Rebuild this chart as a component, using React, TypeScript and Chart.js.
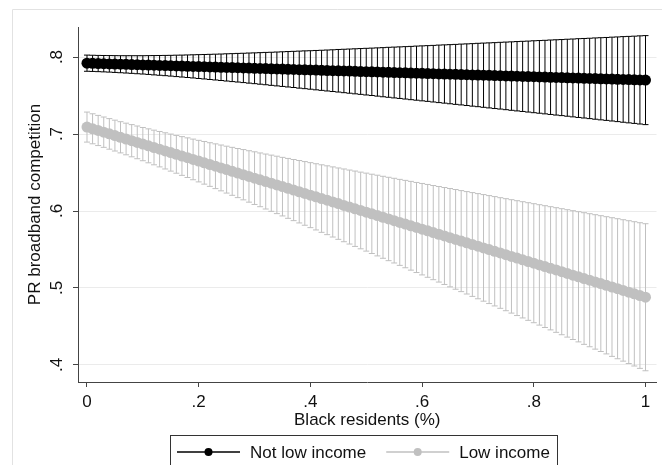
import React, { useEffect, useRef } from "react";
import { Chart, registerables } from "chart.js";

Chart.register(...registerables);

const FONT = "'Liberation Sans', Arial, Helvetica, sans-serif";
const TEXT = "#111111";
const AXIS = "#444444";
const BLACK = "#000000";
const GRAY = "#c0c0c0";

const X_TITLE = "Black residents (%)";
const Y_TITLE = "PR broadband competition";
const SERIES_LABELS = ["Not low income", "Low income"];

const X_TICKS = [0, 0.2, 0.4, 0.6, 0.8, 1];
const X_TICK_LABELS = ["0", ".2", ".4", ".6", ".8", "1"];
const Y_TICKS = [0.4, 0.5, 0.6, 0.7, 0.8];
const Y_TICK_LABELS = [".4", ".5", ".6", ".7", ".8"];

const X_VALUES = [
  0, 0.01, 0.02, 0.03, 0.04, 0.05, 0.06, 0.07, 0.08, 0.09,
  0.1, 0.11, 0.12, 0.13, 0.14, 0.15, 0.16, 0.17, 0.18, 0.19,
  0.2, 0.21, 0.22, 0.23, 0.24, 0.25, 0.26, 0.27, 0.28, 0.29,
  0.3, 0.31, 0.32, 0.33, 0.34, 0.35, 0.36, 0.37, 0.38, 0.39,
  0.4, 0.41, 0.42, 0.43, 0.44, 0.45, 0.46, 0.47, 0.48, 0.49,
  0.5, 0.51, 0.52, 0.53, 0.54, 0.55, 0.56, 0.57, 0.58, 0.59,
  0.6, 0.61, 0.62, 0.63, 0.64, 0.65, 0.66, 0.67, 0.68, 0.69,
  0.7, 0.71, 0.72, 0.73, 0.74, 0.75, 0.76, 0.77, 0.78, 0.79,
  0.8, 0.81, 0.82, 0.83, 0.84, 0.85, 0.86, 0.87, 0.88, 0.89,
  0.9, 0.91, 0.92, 0.93, 0.94, 0.95, 0.96, 0.97, 0.98, 0.99, 1,
];

const NOT_LOW_MEAN = [
  0.7920, 0.7918, 0.7916, 0.7913, 0.7911, 0.7909, 0.7907, 0.7905, 0.7902, 0.7900,
  0.7898, 0.7896, 0.7894, 0.7891, 0.7889, 0.7887, 0.7885, 0.7883, 0.7880, 0.7878,
  0.7876, 0.7874, 0.7872, 0.7869, 0.7867, 0.7865, 0.7863, 0.7861, 0.7858, 0.7856,
  0.7854, 0.7852, 0.7850, 0.7847, 0.7845, 0.7843, 0.7841, 0.7839, 0.7836, 0.7834,
  0.7832, 0.7830, 0.7828, 0.7825, 0.7823, 0.7821, 0.7819, 0.7817, 0.7814, 0.7812,
  0.7810, 0.7808, 0.7806, 0.7803, 0.7801, 0.7799, 0.7797, 0.7795, 0.7792, 0.7790,
  0.7788, 0.7786, 0.7784, 0.7781, 0.7779, 0.7777, 0.7775, 0.7773, 0.7770, 0.7768,
  0.7766, 0.7764, 0.7762, 0.7759, 0.7757, 0.7755, 0.7753, 0.7751, 0.7748, 0.7746,
  0.7744, 0.7742, 0.7740, 0.7737, 0.7735, 0.7733, 0.7731, 0.7729, 0.7726, 0.7724,
  0.7722, 0.7720, 0.7718, 0.7715, 0.7713, 0.7711, 0.7709, 0.7707, 0.7704, 0.7702, 0.7700,
];

const NOT_LOW_LOWER = [
  0.7815, 0.7813, 0.7810, 0.7807, 0.7804, 0.7800, 0.7796, 0.7792, 0.7788, 0.7783,
  0.7779, 0.7774, 0.7768, 0.7763, 0.7758, 0.7752, 0.7746, 0.7740, 0.7734, 0.7728,
  0.7721, 0.7715, 0.7708, 0.7702, 0.7695, 0.7688, 0.7681, 0.7675, 0.7668, 0.7661,
  0.7654, 0.7647, 0.7640, 0.7632, 0.7625, 0.7618, 0.7611, 0.7604, 0.7596, 0.7589,
  0.7582, 0.7574, 0.7567, 0.7559, 0.7552, 0.7545, 0.7537, 0.7530, 0.7522, 0.7515,
  0.7507, 0.7500, 0.7492, 0.7484, 0.7477, 0.7469, 0.7462, 0.7454, 0.7446, 0.7439,
  0.7431, 0.7424, 0.7416, 0.7408, 0.7401, 0.7393, 0.7385, 0.7378, 0.7370, 0.7362,
  0.7355, 0.7347, 0.7339, 0.7331, 0.7324, 0.7316, 0.7308, 0.7300, 0.7293, 0.7285,
  0.7277, 0.7270, 0.7262, 0.7254, 0.7246, 0.7239, 0.7231, 0.7223, 0.7215, 0.7208,
  0.7200, 0.7192, 0.7184, 0.7177, 0.7169, 0.7161, 0.7153, 0.7145, 0.7138, 0.7130, 0.7122,
];

const NOT_LOW_UPPER = [
  0.8025, 0.8023, 0.8021, 0.8020, 0.8019, 0.8018, 0.8017, 0.8017, 0.8017, 0.8017,
  0.8017, 0.8018, 0.8019, 0.8020, 0.8021, 0.8022, 0.8024, 0.8025, 0.8027, 0.8029,
  0.8031, 0.8033, 0.8035, 0.8037, 0.8039, 0.8042, 0.8044, 0.8047, 0.8049, 0.8052,
  0.8054, 0.8057, 0.8060, 0.8062, 0.8065, 0.8068, 0.8071, 0.8074, 0.8077, 0.8080,
  0.8082, 0.8085, 0.8088, 0.8091, 0.8094, 0.8098, 0.8101, 0.8104, 0.8107, 0.8110,
  0.8113, 0.8116, 0.8119, 0.8122, 0.8126, 0.8129, 0.8132, 0.8135, 0.8138, 0.8142,
  0.8145, 0.8148, 0.8151, 0.8155, 0.8158, 0.8161, 0.8164, 0.8168, 0.8171, 0.8174,
  0.8178, 0.8181, 0.8184, 0.8187, 0.8191, 0.8194, 0.8197, 0.8201, 0.8204, 0.8207,
  0.8211, 0.8214, 0.8217, 0.8221, 0.8224, 0.8227, 0.8231, 0.8234, 0.8238, 0.8241,
  0.8244, 0.8248, 0.8251, 0.8254, 0.8258, 0.8261, 0.8265, 0.8268, 0.8271, 0.8275, 0.8278,
];

const LOW_MEAN = [
  0.7090, 0.7068, 0.7046, 0.7024, 0.7002, 0.6980, 0.6957, 0.6935, 0.6913, 0.6891,
  0.6869, 0.6847, 0.6825, 0.6803, 0.6781, 0.6759, 0.6736, 0.6714, 0.6692, 0.6670,
  0.6648, 0.6626, 0.6604, 0.6582, 0.6560, 0.6538, 0.6515, 0.6493, 0.6471, 0.6449,
  0.6427, 0.6405, 0.6383, 0.6361, 0.6339, 0.6317, 0.6294, 0.6272, 0.6250, 0.6228,
  0.6206, 0.6184, 0.6162, 0.6140, 0.6118, 0.6096, 0.6073, 0.6051, 0.6029, 0.6007,
  0.5985, 0.5963, 0.5941, 0.5919, 0.5897, 0.5875, 0.5852, 0.5830, 0.5808, 0.5786,
  0.5764, 0.5742, 0.5720, 0.5698, 0.5676, 0.5654, 0.5631, 0.5609, 0.5587, 0.5565,
  0.5543, 0.5521, 0.5499, 0.5477, 0.5455, 0.5433, 0.5410, 0.5388, 0.5366, 0.5344,
  0.5322, 0.5300, 0.5278, 0.5256, 0.5234, 0.5212, 0.5189, 0.5167, 0.5145, 0.5123,
  0.5101, 0.5079, 0.5057, 0.5035, 0.5013, 0.4991, 0.4968, 0.4946, 0.4924, 0.4902, 0.4880,
];

const LOW_LOWER = [
  0.6895, 0.6873, 0.6850, 0.6827, 0.6803, 0.6779, 0.6755, 0.6730, 0.6704, 0.6679,
  0.6653, 0.6626, 0.6600, 0.6573, 0.6546, 0.6518, 0.6491, 0.6463, 0.6435, 0.6406,
  0.6378, 0.6349, 0.6320, 0.6291, 0.6262, 0.6233, 0.6204, 0.6174, 0.6145, 0.6115,
  0.6085, 0.6056, 0.6026, 0.5996, 0.5966, 0.5936, 0.5905, 0.5875, 0.5845, 0.5815,
  0.5784, 0.5754, 0.5723, 0.5693, 0.5662, 0.5632, 0.5601, 0.5571, 0.5540, 0.5509,
  0.5479, 0.5448, 0.5417, 0.5386, 0.5355, 0.5325, 0.5294, 0.5263, 0.5232, 0.5201,
  0.5170, 0.5139, 0.5108, 0.5077, 0.5046, 0.5015, 0.4984, 0.4953, 0.4922, 0.4891,
  0.4860, 0.4829, 0.4798, 0.4767, 0.4736, 0.4705, 0.4674, 0.4642, 0.4611, 0.4580,
  0.4549, 0.4518, 0.4487, 0.4456, 0.4424, 0.4393, 0.4362, 0.4331, 0.4300, 0.4268,
  0.4237, 0.4206, 0.4175, 0.4144, 0.4112, 0.4081, 0.4050, 0.4019, 0.3987, 0.3956, 0.3925,
];

const LOW_UPPER = [
  0.7285, 0.7263, 0.7242, 0.7221, 0.7200, 0.7180, 0.7160, 0.7141, 0.7122, 0.7104,
  0.7085, 0.7067, 0.7050, 0.7033, 0.7016, 0.6999, 0.6982, 0.6966, 0.6950, 0.6934,
  0.6918, 0.6903, 0.6887, 0.6872, 0.6857, 0.6842, 0.6827, 0.6812, 0.6798, 0.6783,
  0.6769, 0.6754, 0.6740, 0.6726, 0.6712, 0.6697, 0.6683, 0.6669, 0.6656, 0.6642,
  0.6628, 0.6614, 0.6600, 0.6587, 0.6573, 0.6559, 0.6546, 0.6532, 0.6519, 0.6505,
  0.6492, 0.6478, 0.6465, 0.6451, 0.6438, 0.6425, 0.6411, 0.6398, 0.6385, 0.6371,
  0.6358, 0.6345, 0.6331, 0.6318, 0.6305, 0.6292, 0.6279, 0.6265, 0.6252, 0.6239,
  0.6226, 0.6213, 0.6200, 0.6187, 0.6173, 0.6160, 0.6147, 0.6134, 0.6121, 0.6108,
  0.6095, 0.6082, 0.6069, 0.6056, 0.6043, 0.6030, 0.6017, 0.6004, 0.5991, 0.5978,
  0.5965, 0.5952, 0.5939, 0.5926, 0.5913, 0.5900, 0.5887, 0.5874, 0.5861, 0.5848, 0.5835,
];

const X_MIN = -0.0161;
const X_MAX = 1.0197;
const Y_MIN = 0.3779;
const Y_MAX = 0.839;

function pts(ys: number[]) {
  return X_VALUES.map((x, i) => ({ x, y: ys[i] }));
}
function ranges(lo: number[], hi: number[]) {
  return X_VALUES.map((x, i) => ({ x, y: [lo[i], hi[i]] }));
}

function meanDataset(label: string, ys: number[], color: string) {
  return {
    type: "line" as const,
    label,
    data: pts(ys),
    showLine: true,
    borderColor: color,
    borderWidth: 2,
    backgroundColor: color,
    pointRadius: 5.5,
    pointBorderWidth: 0,
    pointBackgroundColor: color,
    pointBorderColor: color,
    pointHoverRadius: 5.5,
  };
}
function capDataset(label: string, ys: number[], color: string) {
  return {
    type: "scatter" as const,
    label,
    data: pts(ys),
    showLine: false,
    pointStyle: "line",
    pointRadius: 3,
    pointHoverRadius: 3,
    pointBorderWidth: 1,
    pointBorderColor: color,
    borderColor: color,
    backgroundColor: color,
  };
}
function barDataset(label: string, lo: number[], hi: number[], color: string) {
  return {
    type: "bar" as const,
    label,
    data: ranges(lo, hi),
    backgroundColor: color,
    borderWidth: 0,
    barThickness: 1,
    grouped: false,
    inflateAmount: 0,
  };
}

const framePlugin = {
  id: "stataFrame",
  beforeDraw(chart: any) {
    const ctx = chart.ctx;
    ctx.save();
    ctx.strokeStyle = "#e2e2e2";
    ctx.lineWidth = 1;
    ctx.beginPath();
    ctx.moveTo(12.5, chart.height + 5);
    ctx.lineTo(12.5, 9.5);
    ctx.lineTo(chart.width + 5, 9.5);
    ctx.stroke();
    ctx.restore();
  },
  afterDraw(chart: any) {
    const ctx = chart.ctx;
    const colors = [BLACK, GRAY];
    const y = 452;
    const glyph = 63;
    const gap = 10;
    const itemGap = 20;
    ctx.save();
    ctx.font = `17px ${FONT}`;
    ctx.textBaseline = "middle";
    ctx.textAlign = "left";
    let x = 177;
    let lastEnd = x;
    SERIES_LABELS.forEach((label, k) => {
      const c = colors[k];
      ctx.strokeStyle = c;
      ctx.lineWidth = 1.3;
      ctx.beginPath();
      ctx.moveTo(x, y);
      ctx.lineTo(x + glyph, y);
      ctx.stroke();
      ctx.fillStyle = c;
      ctx.beginPath();
      ctx.arc(x + glyph / 2, y, 4, 0, Math.PI * 2);
      ctx.fill();
      ctx.fillStyle = TEXT;
      ctx.fillText(label, x + glyph + gap, y + 1);
      const w = ctx.measureText(label).width;
      lastEnd = x + glyph + gap + w;
      x = lastEnd + itemGap;
    });
    ctx.strokeStyle = "#333333";
    ctx.lineWidth = 1;
    ctx.strokeRect(170.5, 435.5, Math.round(lastEnd + 7) - 170, 60);
    ctx.restore();
  },
};

export default function App() {
  const ref = useRef<HTMLCanvasElement | null>(null);

  useEffect(() => {
    if (!ref.current) return;
    Chart.defaults.font.family = FONT;
    Chart.defaults.font.size = 17;
    Chart.defaults.color = TEXT;

    const datasets: any[] = [
      meanDataset(SERIES_LABELS[0], NOT_LOW_MEAN, BLACK),
      meanDataset(SERIES_LABELS[1], LOW_MEAN, GRAY),
      capDataset("Not low income lower", NOT_LOW_LOWER, BLACK),
      capDataset("Not low income upper", NOT_LOW_UPPER, BLACK),
      capDataset("Low income lower", LOW_LOWER, GRAY),
      capDataset("Low income upper", LOW_UPPER, GRAY),
      barDataset("Not low income CI", NOT_LOW_LOWER, NOT_LOW_UPPER, BLACK),
      barDataset("Low income CI", LOW_LOWER, LOW_UPPER, GRAY),
    ];

    const chart = new Chart(ref.current, {
      type: "scatter",
      data: { datasets },
      options: {
        responsive: false,
        animation: false,
        devicePixelRatio: 1,
        layout: { padding: { top: 27, right: 5, left: 0, bottom: 0 } },
        plugins: {
          legend: { display: false },
          tooltip: { enabled: false },
        },
        scales: {
          x: {
            type: "linear",
            min: X_MIN,
            max: X_MAX,
            offset: false,
            afterFit: (s: any) => {
              s.height = 83;
            },
            afterBuildTicks: (s: any) => {
              s.ticks = X_TICKS.map((v) => ({ value: v }));
            },
            ticks: {
              callback: (_v: any, i: number) => X_TICK_LABELS[i],
              autoSkip: false,
              maxRotation: 0,
              minRotation: 0,
              padding: 5,
              color: TEXT,
              font: { size: 17, family: FONT },
            },
            grid: {
              display: true,
              offset: false,
              drawOnChartArea: false,
              drawTicks: true,
              tickLength: 5,
              tickColor: AXIS,
              tickWidth: 1,
            },
            border: { display: true, color: AXIS, width: 1 },
            title: {
              display: true,
              text: X_TITLE,
              color: TEXT,
              font: { size: 17, family: FONT },
              padding: { top: 0, bottom: 34 },
            },
          },
          y: {
            type: "linear",
            min: Y_MIN,
            max: Y_MAX,
            afterFit: (s: any) => {
              s.width = 78;
            },
            afterBuildTicks: (s: any) => {
              s.ticks = Y_TICKS.map((v) => ({ value: v }));
            },
            ticks: {
              callback: (_v: any, i: number) => Y_TICK_LABELS[i],
              autoSkip: false,
              minRotation: 90,
              maxRotation: 90,
              crossAlign: "center",
              padding: 9,
              color: TEXT,
              font: { size: 17, family: FONT },
            },
            grid: {
              display: true,
              offset: false,
              color: "#ebebeb",
              lineWidth: 1,
              drawTicks: true,
              tickLength: 5,
              tickColor: AXIS,
              tickWidth: 1,
            },
            border: { display: true, color: AXIS, width: 1 },
            title: {
              display: true,
              text: Y_TITLE,
              color: TEXT,
              font: { size: 17, family: FONT },
              padding: { top: 25, bottom: 0 },
            },
          },
        },
      } as any,
      plugins: [framePlugin],
    });

    return () => chart.destroy();
  }, []);

  return (
    <div style={{ position: "absolute", left: 0, top: 0, width: 662, height: 465, background: "#ffffff" }}>
      <canvas ref={ref} width={662} height={465} style={{ display: "block" }} />
    </div>
  );
}
